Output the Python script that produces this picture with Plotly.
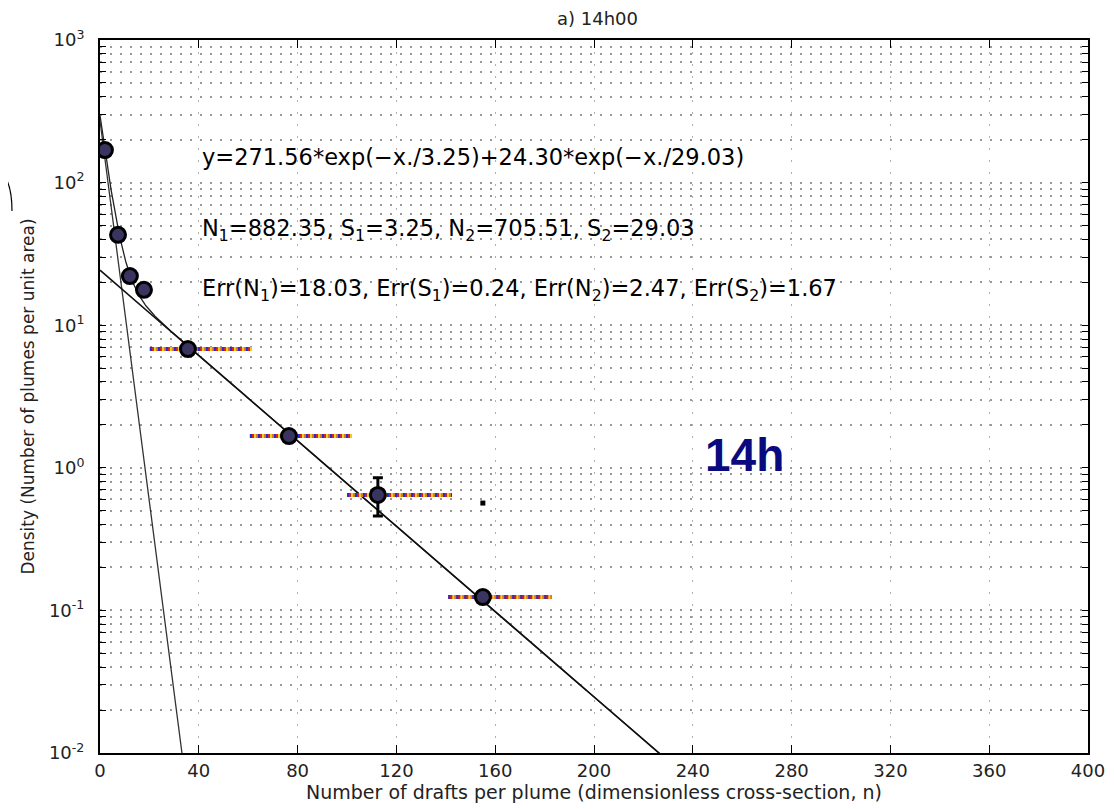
import numpy as np
import plotly.graph_objects as go

# ---- data ----
pts_x = [2, 7.3, 12.1, 17.8, 35.6, 76.5, 112.5, 155]
pts_y = [169, 43, 22.1, 17.7, 6.8, 1.67, 0.645, 0.124]
xerr_lo = [0.5, 5.5, 10.5, 16, 20.2, 60.7, 100, 141]
xerr_hi = [3.8, 9.5, 14.5, 20, 61.5, 102, 142.5, 183]
yerr_plus = [0, 0, 0, 0, 0, 0, 0.205, 0]
yerr_minus = [0, 0, 0, 0, 0, 0, 0.185, 0]
stray_x = [155]
stray_y = [0.566]

A1, S1 = 271.56, 3.25
A2, S2 = 24.30, 29.03

xticks = [0, 40, 80, 120, 160, 200, 240, 280, 320, 360, 400]
decades = [-2, -1, 0, 1, 2, 3]

title_text = "a) 14h00"
xlabel = "Number of drafts per plume (dimensionless cross-section, n)"
ylabel = "Density (Number of plumes per unit area)"
ann_lines = [
    "y=271.56*exp(\u2212x./3.25)+24.30*exp(\u2212x./29.03)",
    "N<sub>1</sub>=882.35, S<sub>1</sub>=3.25, N<sub>2</sub>=705.51, S<sub>2</sub>=29.03",
    "Err(N<sub>1</sub>)=18.03, Err(S<sub>1</sub>)=0.24, Err(N<sub>2</sub>)=2.47, Err(S<sub>2</sub>)=1.67",
]
ann_y = [150, 46.5, 17.7]
ann_x = 40.5

FONT = "DejaVu Sans, Liberation Sans, Arial, sans-serif"
BOLD = "Liberation Sans, Arial, sans-serif"

fig = go.Figure()

# fit curves
xx = np.linspace(0, 400, 2001)
c1 = A1 * np.exp(-xx / S1)
c2 = A2 * np.exp(-xx / S2)
fig.add_trace(go.Scatter(x=xx, y=c1 + c2, mode="lines", line=dict(color="#222", width=1.3), showlegend=False))
fig.add_trace(go.Scatter(x=xx, y=c1, mode="lines", line=dict(color="#333", width=1.3), showlegend=False))
fig.add_trace(go.Scatter(x=xx, y=c2, mode="lines", line=dict(color="#111", width=1.6), showlegend=False))

# horizontal error bars (multicoloured dashed)
ex, ey = [], []
for lo, hi, y in zip(xerr_lo, xerr_hi, pts_y):
    ex += [lo, hi, None]
    ey += [y, y, None]
for col, dash in [("#e07820", "solid"), ("#f0d020", "6px,2px"), ("#d02020", "4px,4px"), ("#2a2ad0", "2px,6px")]:
    fig.add_trace(go.Scatter(x=ex, y=ey, mode="lines", line=dict(color=col, width=4, dash=dash), showlegend=False))

# markers
fig.add_trace(go.Scatter(
    x=pts_x, y=pts_y, mode="markers",
    marker=dict(symbol="circle", size=15, color="#3a3560", line=dict(color="black", width=3)),
    error_y=dict(type="data", symmetric=False, array=yerr_plus, arrayminus=yerr_minus,
                 color="black", thickness=3, width=5),
    showlegend=False))
fig.add_trace(go.Scatter(x=stray_x, y=stray_y, mode="markers",
                         marker=dict(symbol="square", size=5, color="black"), showlegend=False))

# text annotations
for t, y in zip(ann_lines, ann_y):
    fig.add_annotation(x=ann_x, y=np.log10(y), text=t, showarrow=False, xanchor="left",
                       yanchor="middle", font=dict(family=FONT, size=22.5, color="black"))
fig.add_annotation(x=261, y=np.log10(1.23), text="<b>14h</b>", showarrow=False,
                   font=dict(family=BOLD, size=46, color="#0a0a80"))

# left arc fragment (outside plot area)
def px_x(p):
    return (p - 100) / 988.0

def px_y(p):
    return 1 - (p - 40) / 713.0

fig.add_shape(type="path", xref="paper", yref="paper",
              path="M %f %f Q %f %f %f %f" % (px_x(1), px_y(172), px_x(12), px_y(182), px_x(12), px_y(211)),
              line=dict(color="black", width=1.2))

ytickvals = []
yticktext = []
for d in decades:
    for m in range(1, 10):
        if d == 3 and m > 1:
            break
        ytickvals.append(m * 10.0 ** d)
        yticktext.append("10<sup>%d</sup>" % d if m == 1 else "")

# page body has an 8px default margin, so the figure is offset by 8px
fig.update_layout(
    width=1106, height=801,
    margin=dict(l=92, r=26, t=32, b=56, autoexpand=False),
    paper_bgcolor="white", plot_bgcolor="white",
    title=dict(text=title_text, x=0.533, xanchor="center", y=0.995, yanchor="top",
               font=dict(family=FONT, size=18, color="#222")),
    font=dict(family=FONT, color="#222"),
)
fig.update_xaxes(
    range=[0, 400], tickvals=xticks, ticks="inside", ticklen=8, tickcolor="black",
    mirror="ticks", showline=True, linecolor="black", linewidth=2, automargin=False,
    showgrid=True, gridcolor="#b0b0b0", griddash="2px,10px", gridwidth=1,
    zeroline=False, tickfont=dict(size=18, family=FONT, color="#222"),
    title=dict(text=xlabel, font=dict(size=19, family=FONT, color="#222"), standoff=2),
)
fig.update_yaxes(
    type="log", range=[-2, 3], tickvals=ytickvals, ticktext=yticktext,
    ticks="inside", ticklen=6, tickcolor="black", automargin=False,
    mirror="ticks", showline=True, linecolor="black", linewidth=2,
    showgrid=True, gridcolor="#999999", griddash="2px,8px", gridwidth=1.5,
    zeroline=False, tickfont=dict(size=18, family=FONT, color="#222"), ticklabelstandoff=10,
    title=dict(text=ylabel, font=dict(size=17, family=FONT, color="#222"), standoff=10),
)

fig.write_html("out.html")
